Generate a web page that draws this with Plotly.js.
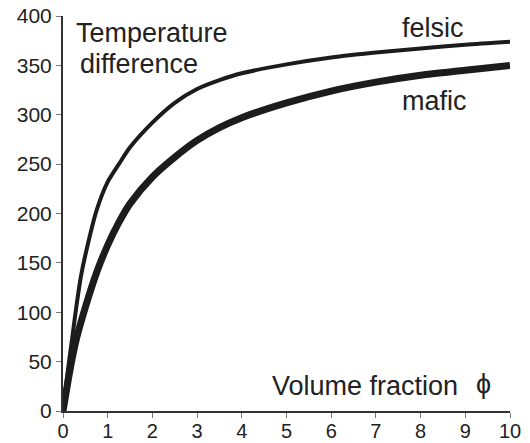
<!DOCTYPE html>
<html>
<head>
<meta charset="utf-8">
<script src="https://cdn.plot.ly/plotly-3.0.1.min.js"></script>
<style>html,body{margin:0;padding:0;background:#fff;}#chart{width:530px;height:443px;}</style>
</head>
<body>
<div id="chart"></div>
<script>
// Volume fraction (phi) sample positions and temperature differences
var felsicX = [0, 0.1, 0.2, 0.3, 0.4, 0.5, 0.75, 1.0, 1.25, 1.5, 2.0, 2.5, 3.0, 3.5, 4.0, 5.0, 6.0, 7.0, 8.0, 9.0, 10];
var felsicY = [0, 38, 72, 106, 136, 158, 203, 232, 250, 267, 292, 312, 326, 335, 342, 351, 358, 363, 367, 371, 374];
var maficX = [0, 0.1, 0.2, 0.3, 0.5, 0.75, 1.0, 1.25, 1.5, 2.0, 2.5, 3.0, 3.5, 4.0, 5.0, 6.0, 7.0, 8.0, 9.0, 10];
var maficY = [0, 27, 52, 73, 105, 140, 168, 191, 210, 237, 257, 274, 287, 297, 312, 324, 333, 340, 345, 350];
var xTicks = [0, 1, 2, 3, 4, 5, 6, 7, 8, 9, 10];
var yTicks = [0, 50, 100, 150, 200, 250, 300, 350, 400];
var labels = {felsic: "felsic", mafic: "mafic", yTitle: ["Temperature", "difference"], xTitle: "Volume fraction", phi: "\u03D5"};

var lineColor = "#1c1c1c";
var traces = [
  {x: felsicX, y: felsicY, mode: "lines", line: {color: lineColor, width: 4, shape: "spline", smoothing: 0.7}, name: labels.felsic, hoverinfo: "none"},
  {x: maficX, y: maficY, mode: "lines", line: {color: lineColor, width: 7, shape: "spline", smoothing: 0.7}, name: labels.mafic, hoverinfo: "none"}
];

var fam = "Liberation Sans, Arial, Helvetica, sans-serif";
function ann(text, x, y, xa, size) {
  return {text: text, x: x, y: y, xref: "x", yref: "y", xanchor: xa || "left", yanchor: "middle",
          showarrow: false, font: {family: fam, size: size || 27, color: "#222"}};
}

var layout = {
  width: 530, height: 443,
  margin: {l: 63, r: 20, t: 16, b: 32, pad: 0},
  paper_bgcolor: "#fff", plot_bgcolor: "#fff",
  showlegend: false,
  font: {family: fam, color: "#222"},
  xaxis: {
    range: [0, 10], tickvals: xTicks, ticktext: xTicks.map(String),
    showgrid: false, zeroline: false, showline: true, linecolor: "#333", linewidth: 2,
    ticks: "outside", ticklen: 5, tickcolor: "#777", tickwidth: 1, ticklabelstandoff: -4,
    tickfont: {family: fam, size: 20, color: "#222"}, fixedrange: true
  },
  yaxis: {
    range: [0, 400], tickvals: yTicks, ticktext: yTicks.map(String),
    showgrid: false, zeroline: false, showline: true, linecolor: "#333", linewidth: 2,
    ticks: "outside", ticklen: 5, tickcolor: "#777", tickwidth: 1,
    tickfont: {family: fam, size: 21, color: "#222"}, fixedrange: true
  },
  annotations: [
    ann(labels.yTitle[0], 0.246, 383),
    ann(labels.yTitle[1], 0.336, 351),
    ann(labels.felsic, 7.55, 388),
    ann(labels.mafic, 7.55, 314),
    ann(labels.xTitle, 4.64, 25.3),
    ann(labels.phi, 9.40, 27.3, "center")
  ]
};

Plotly.newPlot("chart", traces, layout, {displayModeBar: false, staticPlot: true});
</script>
</body>
</html>
